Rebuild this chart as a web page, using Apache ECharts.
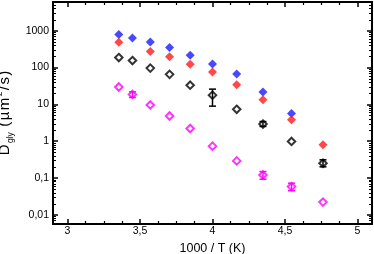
<!DOCTYPE html>
<html><head><meta charset="utf-8">
<script src="https://cdn.jsdelivr.net/npm/echarts@6/dist/echarts.min.js"></script>
<style>html,body{margin:0;padding:0;background:#fff}#c{width:374px;height:254px}</style>
</head><body><div id="c"></div>
<script>
const invT = [3.354, 3.448, 3.571, 3.704, 3.846, 4.000, 4.167, 4.348, 4.545, 4.762];
const blue = [780, 633, 493, 347, 215, 125, 66, 21.5, 5.6, null];
const red = [483, null, 270, 194, 122, 75, 34, 13.3, 3.8, 0.80];
const black = [186, 154, 96, 65, 33, 17.7, 7.3, 2.9, 0.98, 0.25];
const blackLow = [null, null, null, null, null, 8.9, null, 2.5, null, 0.20];
const blackHigh = [null, null, null, null, null, 25.8, null, 3.4, null, 0.31];
const magenta = [29.5, 18.5, 9.6, 4.8, 2.2, 0.73, 0.29, 0.12, 0.058, 0.022];
const magLow = [null, 15.3, null, null, null, null, null, 0.092, 0.045, null];
const magHigh = [null, 21.8, null, null, null, null, null, 0.149, 0.072, null];
const xTicks = [3, 3.5, 4, 4.5, 5];
const yTicks = [0.01, 0.1, 1, 10, 100, 1000];

const FONT = 'Liberation Sans';
const Y_MIN = 0.0056, Y_MAX = 6000;
function pts(ys) { return invT.map((x, i) => ys[i] == null ? null : [x, ys[i]]).filter(Boolean); }
function fmtX(v) { const m = xTicks.find(t => Math.abs(t - v) < 1e-6); return m == null ? '' : String(m).replace('.', ','); }
function fmtY(v) { const m = yTicks.find(t => Math.abs(Math.log10(t) - Math.log10(v)) < 1e-6); return m == null ? '' : String(m).replace('.', ','); }

// log-spaced minor tick values (2..9 x 10^k) within the axis range
const minorVals = [];
for (let k = -3; k <= 3; k++) for (let m = 2; m <= 9; m++) {
  const v = m * Math.pow(10, k);
  if (v > Y_MIN && v < Y_MAX) minorVals.push([3, v]);
}

function errSeries(color, low, high) {
  const data = invT.map((x, i) => low[i] == null ? null : [x, low[i], high[i]]).filter(Boolean);
  return {
    type: 'custom', data: data, encode: { x: 0, y: [1, 2] }, z: 1, silent: true,
    renderItem: function (params, api) {
      const x = api.value(0);
      const p1 = api.coord([x, api.value(1)]);
      const p2 = api.coord([x, api.value(2)]);
      const w = 3.5;
      const st = { stroke: color, lineWidth: 1.5 };
      return { type: 'group', children: [
        { type: 'line', shape: { x1: p1[0], y1: p1[1], x2: p2[0], y2: p2[1] }, style: st },
        { type: 'line', shape: { x1: p1[0] - w, y1: p1[1], x2: p1[0] + w, y2: p1[1] }, style: st },
        { type: 'line', shape: { x1: p2[0] - w, y1: p2[1], x2: p2[0] + w, y2: p2[1] }, style: st }
      ] };
    }
  };
}

const minorTickSeries = {
  type: 'custom', data: minorVals, encode: { x: 0, y: 1 }, z: 5, silent: true, clip: false,
  renderItem: function (params, api) {
    const cs = params.coordSys;
    const y = Math.round(api.coord([3, api.value(1)])[1]) + 0.5;
    const L = 3;
    const st = { stroke: '#000', lineWidth: 1 };
    return { type: 'group', children: [
      { type: 'line', shape: { x1: cs.x, y1: y, x2: cs.x + L, y2: y }, style: st },
      { type: 'line', shape: { x1: cs.x + cs.width - L, y1: y, x2: cs.x + cs.width, y2: y }, style: st }
    ] };
  }
};

const axLine = { show: true, onZero: false, lineStyle: { color: '#000', width: 2 } };
const xBase = {
  type: 'value', min: 2.9, max: 5.1, splitNumber: 4,
  axisLine: axLine,
  axisTick: { inside: true, length: 5, lineStyle: { color: '#000', width: 1.5 } },
  minorTick: { show: true, splitNumber: 4, length: 3, lineStyle: { color: '#000', width: 1.2 } },
  splitLine: { show: false }, minorSplitLine: { show: false }
};
const yBase = {
  type: 'log', logBase: 10, min: Y_MIN, max: Y_MAX,
  axisLine: axLine,
  axisTick: { inside: true, length: 5, lineStyle: { color: '#000', width: 1.5 } },
  minorTick: { show: false },
  splitLine: { show: false }, minorSplitLine: { show: false }
};

const mSt = { fontSize: 15, fontFamily: FONT, color: '#000', lineHeight: 20, padding: [0, 0.7] };
const chart = echarts.init(document.getElementById('c'), null, { renderer: 'canvas' });
chart.setOption({
  animation: false,
  backgroundColor: '#fff',
  textStyle: { fontFamily: FONT },
  grid: { left: 53, right: 2, top: 2, bottom: 30, containLabel: false, outerBoundsMode: 'none' },
  xAxis: [
    Object.assign({}, xBase, {
      position: 'bottom',
      axisLabel: { formatter: fmtX, fontSize: 10.5, color: '#000', margin: 2, fontFamily: FONT, showMinLabel: false, showMaxLabel: false },
      name: '1000 / T (K)', nameLocation: 'middle', nameGap: 12.5,
      nameTextStyle: { fontSize: 12.5, color: '#000', fontFamily: FONT, verticalAlign: 'top' }
    }),
    Object.assign({}, xBase, { position: 'top', axisLabel: { show: false } })
  ],
  yAxis: [
    Object.assign({}, yBase, {
      position: 'left',
      axisLabel: { formatter: fmtY, fontSize: 10.5, color: '#000', margin: 4, fontFamily: FONT },
      name: '{m|D}{s|gly}{m| (}{m|µ}{m|m}{p|2}{m|/}{m|s}{m|)}', nameLocation: 'middle', nameGap: 31, nameRotate: 90,
      nameTextStyle: {
        color: '#000', fontFamily: FONT,
        rich: {
          m: mSt,
          s: { fontSize: 8.5, fontFamily: FONT, color: '#000', verticalAlign: 'bottom', lineHeight: 20, padding: [0, 0.7] },
          p: { fontSize: 8.5, fontFamily: FONT, color: '#000', verticalAlign: 'top', lineHeight: 20, padding: [0, 0.7] }
        }
      }
    }),
    Object.assign({}, yBase, { position: 'right', axisLabel: { show: false } })
  ],
  series: [
    minorTickSeries,
    errSeries('#000', blackLow, blackHigh),
    errSeries('#ff00ff', magLow, magHigh),
    { type: 'scatter', data: pts(blue), symbol: 'diamond', symbolSize: 9, itemStyle: { color: '#1a1aff' }, z: 3 },
    { type: 'scatter', data: pts(red), symbol: 'diamond', symbolSize: 9, itemStyle: { color: '#ff1a1a' }, z: 4 },
    { type: 'scatter', data: pts(black), symbol: 'diamond', symbolSize: 7.5, itemStyle: { color: 'rgba(255,255,255,0)', borderColor: '#000', borderWidth: 2 }, z: 3 },
    { type: 'scatter', data: pts(magenta), symbol: 'diamond', symbolSize: 7.5, itemStyle: { color: 'rgba(255,255,255,0)', borderColor: '#ff00ff', borderWidth: 2 }, z: 3 }
  ]
});
</script>
</body></html>
